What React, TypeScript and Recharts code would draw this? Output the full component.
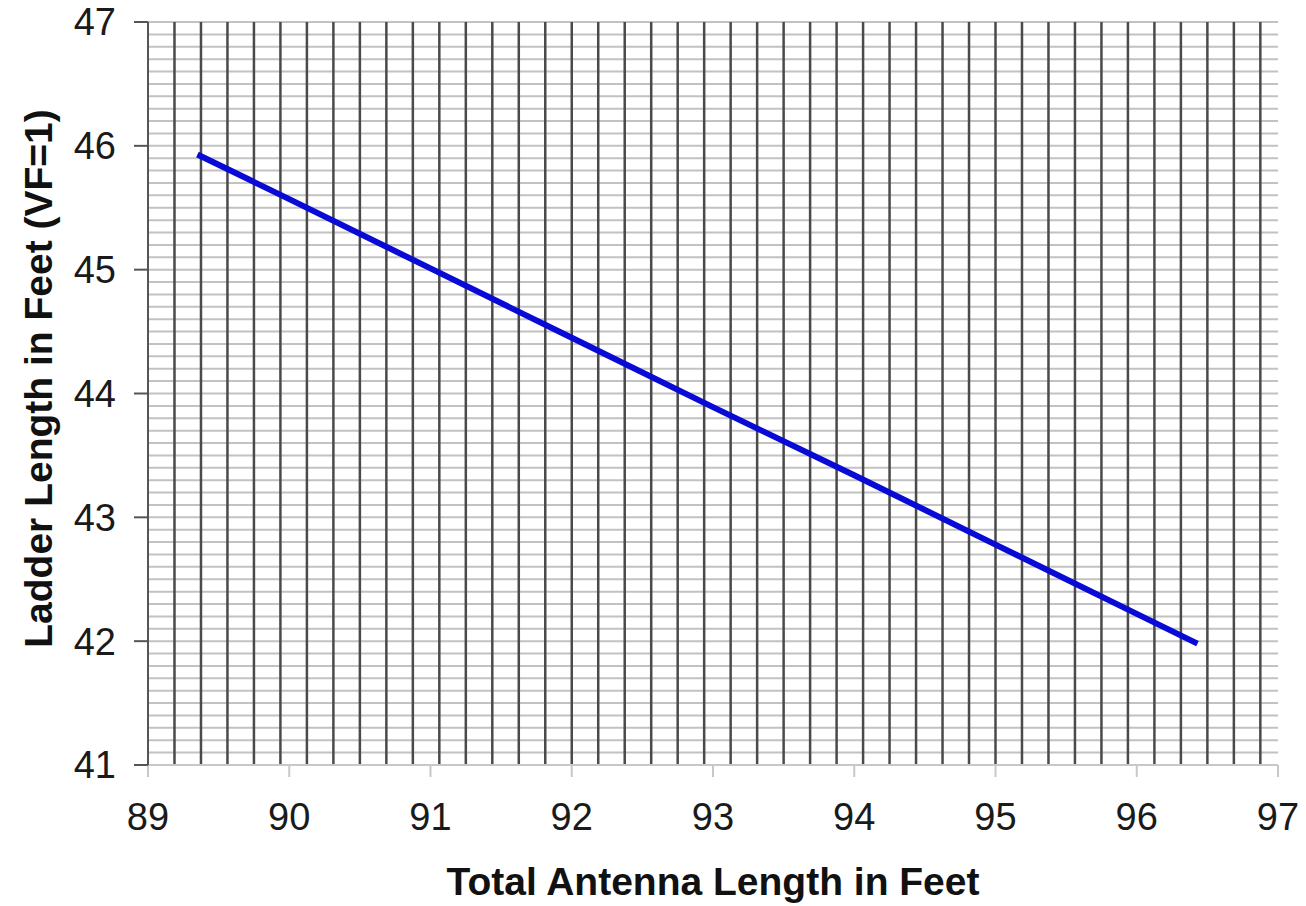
import React from 'react';
import { LineChart, Line, XAxis, YAxis, CartesianGrid, Label } from 'recharts';

// values
const antennaLength = [89.35, 90, 91, 92, 93, 94, 95, 96, 96.43];
const ladderLength = [45.93, 45.57, 45.01, 44.45, 43.89, 43.34, 42.78, 42.22, 41.98];

const xTicks = [89, 90, 91, 92, 93, 94, 95, 96, 97];
const yTicks = [41, 42, 43, 44, 45, 46, 47];

// grid steps (3/16 ft vertical, 0.1 ft horizontal)
const xGridStep = 0.1875;
const yGridStep = 0.1;

const data = antennaLength.map((x, i) => ({ x, ladder: ladderLength[i] }));

const verticalGrid: number[] = [];
for (let k = 1; 89 + k * xGridStep < 97; k++) verticalGrid.push(89 + k * xGridStep);
const horizontalGrid: number[] = [];
for (let k = 1; k <= 60; k++) horizontalGrid.push(Math.round((41 + k * yGridStep) * 10) / 10);

const FONT = '"Liberation Sans", Arial, sans-serif';

const YTitle = (props: any) => {
  const { x, y, height } = props.viewBox;
  const cx = x + 38;
  const cy = y + height / 2 - 15;
  return (
    <text
      x={cx}
      y={cy}
      transform={`rotate(-90, ${cx}, ${cy})`}
      textAnchor="middle"
      dominantBaseline="central"
      fontFamily={FONT}
      fontWeight="bold"
      fontSize={39}
      fill="#111"
    >
      Ladder Length in Feet (VF=1)
    </text>
  );
};

export default function App() {
  return (
    <div style={{ position: 'absolute', left: 0, top: 0, background: '#fff' }}>
      <LineChart width={1306} height={906} data={data} margin={{ top: 22, right: 28, left: 0, bottom: 0 }}>
        <CartesianGrid
          vertical={false}
          horizontalValues={horizontalGrid}
          stroke="#c2c2c2"
          strokeWidth={2}
        />
        <CartesianGrid
          horizontal={false}
          verticalValues={verticalGrid}
          stroke="#4a4a4a"
          strokeWidth={2.5}
        />
        <XAxis
          dataKey="x"
          type="number"
          domain={[89, 97]}
          ticks={xTicks}
          interval={0}
          allowDataOverflow
          height={141}
          tickSize={12}
          tickMargin={26}
          axisLine={{ stroke: '#c8c8c8', strokeWidth: 2 }}
          tickLine={{ stroke: '#c8c8c8', strokeWidth: 2 }}
          tick={{ fill: '#1a1a1a', fontSize: 38, fontFamily: FONT }}
        >
          <Label
            value="Total Antenna Length in Feet"
            position="insideBottom"
            offset={11}
            fill="#111"
            fontSize={39}
            fontWeight="bold"
            fontFamily={FONT}
          />
        </XAxis>
        <YAxis
          type="number"
          domain={[41, 47]}
          ticks={yTicks}
          interval={0}
          allowDataOverflow
          width={148}
          tickSize={14}
          tickMargin={18}
          axisLine={{ stroke: '#555', strokeWidth: 2 }}
          tickLine={{ stroke: '#555', strokeWidth: 2 }}
          tick={{ fill: '#1a1a1a', fontSize: 38, fontFamily: FONT }}
        >
          <Label content={<YTitle />} />
        </YAxis>
        <Line
          type="linear"
          dataKey="ladder"
          stroke="#0a0ad6"
          strokeWidth={6}
          dot={false}
          isAnimationActive={false}
        />
      </LineChart>
    </div>
  );
}
